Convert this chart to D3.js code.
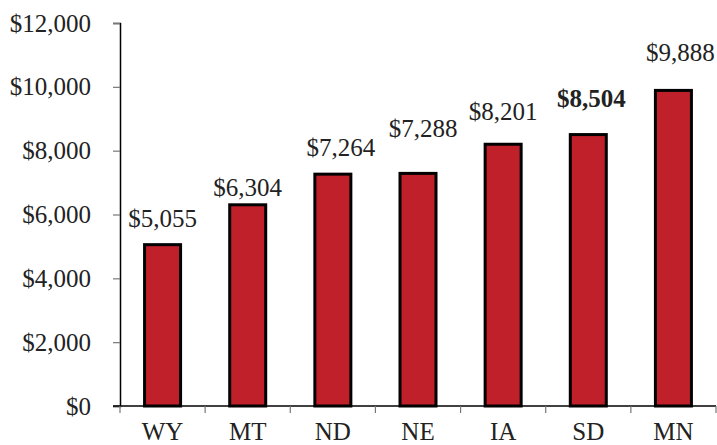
<!DOCTYPE html>
<html>
<head>
<meta charset="utf-8">
<script src="https://cdn.jsdelivr.net/npm/d3@7"></script>
<style>
  body { margin: 0; background: #fff; }
  svg, svg text { font-family: "Liberation Serif", "Times New Roman", Times, serif; }
</style>
</head>
<body>
<div id="chart"></div>
<script>
const states = ["WY", "MT", "ND", "NE", "IA", "SD", "MN"];
const amounts = [5055, 6304, 7264, 7288, 8201, 8504, 9888];
const highlighted = ["SD"];
const yTicks = [0, 2000, 4000, 6000, 8000, 10000, 12000];

// hand-placed value labels in the original: lift above bar top and sideways nudge (px)
const labelLift = [18, 9, 18, 36, 24, 28, 29];
const labelNudge = [0, 0, 8, 5, 0, 3, 7];

const width = 717, height = 445;
const margin = { top: 23, right: 1, bottom: 39, left: 120 };
const serif = "'Liberation Serif', 'Times New Roman', Times, serif";
const fontSize = 25;

const svg = d3.select("#chart").append("svg")
    .attr("width", width)
    .attr("height", height);

const x = d3.scaleBand()
    .domain(states)
    .range([margin.left, width - margin.right])
    .padding(0);

const y = d3.scaleLinear()
    .domain([0, 12000])
    .range([height - margin.bottom, margin.top]);

const fmt = d => "$" + d3.format(",")(d);
const barWidth = 36;

// y axis
const yAxis = svg.append("g")
    .attr("transform", `translate(${margin.left},0)`)
    .call(d3.axisLeft(y).tickValues(yTicks).tickSize(7).tickPadding(22).tickFormat(fmt))
    .attr("font-family", serif)
    .attr("font-size", fontSize);
yAxis.select(".domain").attr("stroke", "#000").attr("stroke-width", 1.5);
yAxis.selectAll(".tick line").attr("stroke", "#777").attr("stroke-width", 1.2);
yAxis.selectAll(".tick text").attr("fill", "#222");

// bars
svg.selectAll("rect.bar")
    .data(states)
    .enter()
    .append("rect")
    .attr("class", "bar")
    .attr("x", d => x(d) + x.bandwidth() / 2 - barWidth / 2)
    .attr("y", (d, i) => y(amounts[i]))
    .attr("width", barWidth)
    .attr("height", (d, i) => y(0) - y(amounts[i]))
    .attr("fill", "#c0202a")
    .attr("stroke", "#000")
    .attr("stroke-width", 3);

// x axis
const xAxisY = y(0);
svg.append("line")
    .attr("x1", margin.left - 7).attr("x2", width - margin.right)
    .attr("y1", xAxisY).attr("y2", xAxisY)
    .attr("stroke", "#000").attr("stroke-width", 1.5);

const boundaries = states.map(d => x(d)).concat([x(states[states.length - 1]) + x.bandwidth()]);
svg.selectAll("line.xtick")
    .data(boundaries)
    .enter()
    .append("line")
    .attr("class", "xtick")
    .attr("x1", d => d).attr("x2", d => d)
    .attr("y1", xAxisY).attr("y2", xAxisY + 7)
    .attr("stroke", "#777").attr("stroke-width", 1.2);

svg.selectAll("text.xlabel")
    .data(states)
    .enter()
    .append("text")
    .attr("class", "xlabel")
    .attr("x", d => x(d) + x.bandwidth() / 2)
    .attr("y", xAxisY + 34)
    .attr("text-anchor", "middle")
    .attr("font-size", fontSize)
    .attr("fill", "#222")
    .text(d => d);

// value labels
svg.selectAll("text.value")
    .data(states)
    .enter()
    .append("text")
    .attr("class", "value")
    .attr("x", (d, i) => x(d) + x.bandwidth() / 2 + labelNudge[i])
    .attr("y", (d, i) => y(amounts[i]) - labelLift[i])
    .attr("text-anchor", "middle")
    .attr("font-size", fontSize)
    .attr("font-weight", d => highlighted.includes(d) ? "bold" : "normal")
    .attr("fill", "#222")
    .text((d, i) => fmt(amounts[i]));
</script>
</body>
</html>
